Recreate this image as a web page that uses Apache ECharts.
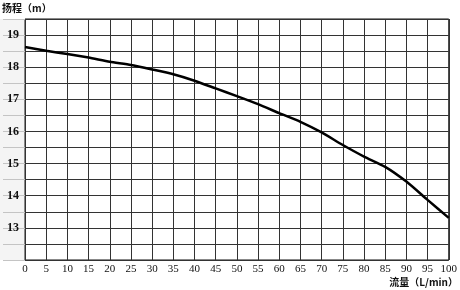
<!DOCTYPE html>
<html><head><meta charset="utf-8">
<script src="https://cdn.jsdelivr.net/npm/echarts@6/dist/echarts.min.js"></script>
<style>html,body{margin:0;padding:0;background:#fff}#c{width:460px;height:290px}</style>
</head><body><div id="c"></div>
<script>
const flowValues = [0,5,10,15,20,25,30,35,40,45,50,55,60,65,70,75,80,85,90,95,100];
const headValues = [18.63,18.51,18.41,18.30,18.17,18.07,17.93,17.78,17.58,17.34,17.10,16.85,16.57,16.30,15.97,15.58,15.22,14.90,14.44,13.87,13.31];
const yTickLabels = ['13','14','15','16','17','18','19'];
const yTitle = '扬程（m）';
const xTitle = '流量（L/min）';

const chart = echarts.init(document.getElementById('c'), null, {renderer:'canvas'});
chart.setOption({
  animation:false,
  backgroundColor:'#fff',
  grid:{left:25,right:8,top:19,bottom:30,show:true,borderColor:'#111',borderWidth:1,containLabel:false},
  graphic:[
    {type:'rect',z:-10,shape:{x:0,y:19,width:24,height:241},style:{fill:'#f4f4f4'}},
    {type:'text',left:2,top:3,style:{text:yTitle,font:'bold 10px "Noto Sans CJK SC"',fill:'#111'}},
    {type:'text',right:2,top:277,style:{text:xTitle,font:'bold 10px "Noto Sans CJK SC"',fill:'#111'}}
  ],
  xAxis:{type:'value',min:0,max:100,interval:5,
    axisLine:{show:false},axisTick:{show:false},
    axisLabel:{margin:4,fontFamily:'Liberation Serif',fontSize:11,color:'#111'},
    splitLine:{show:true,lineStyle:{color:'#333',width:1}}},
  yAxis:{type:'value',min:12,max:19.5,interval:0.5,
    axisLine:{show:false},
    axisTick:{show:true,length:22,lineStyle:{color:'#c4c4c4',width:1}},
    axisLabel:{margin:6,fontFamily:'Liberation Serif',fontSize:12,fontWeight:'bold',color:'#111',verticalAlign:'middle',padding:[0,0,7,0],
      formatter:function(v){const s=String(v);return yTickLabels.indexOf(s)>=0?s:'';}},
    splitLine:{show:true,lineStyle:{color:'#333',width:1}}},
  series:[{type:'line',data:flowValues.map((q,i)=>[q,headValues[i]]),smooth:0.2,showSymbol:false,
    lineStyle:{color:'#000',width:2.5}}]
});
</script></body></html>
